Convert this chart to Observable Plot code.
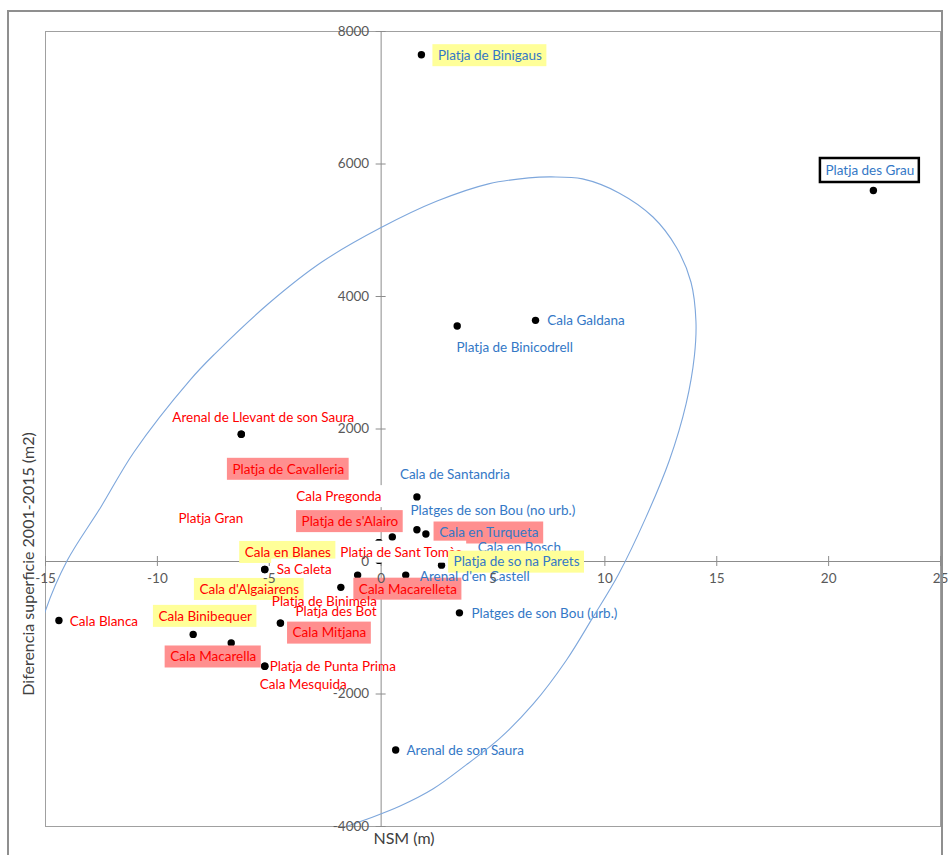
<!DOCTYPE html>
<html><head><meta charset="utf-8">
<script src="https://cdn.jsdelivr.net/npm/d3@7"></script>
<script src="https://cdn.jsdelivr.net/npm/@observablehq/plot@0.6"></script>
<style>
html,body{margin:0;padding:0;overflow:hidden;background:#fff}
#wrap{position:relative;width:948px;height:855px;overflow:hidden}
#outer{position:absolute;left:7px;top:10px;width:936px;height:900px;border:2px solid #8f8f8f;box-sizing:border-box;pointer-events:none}
</style></head><body><div id="wrap"><div id="chart"></div><div id="outer"></div></div>
<script>
// ---- data ----
const names = [
  "Platja de Binigaus","Platja des Grau","Cala Galdana","Platja de Binicodrell",
  "Arenal de Llevant de son Saura","Platja de Cavalleria","Cala de Santandria","Cala Pregonda",
  "Platja Gran","Platja de s'Alairo","Platges de son Bou (no urb.)","Cala en Turqueta",
  "Cala en Bosch","Platja de Sant Tomàs","Platja de so na Parets","Cala en Blanes",
  "Sa Caleta","Cala Macarelleta","Arenal d'en Castell","Cala d'Algaiarens",
  "Platja de Binimela","Platja des Bot","Cala Mitjana","Platges de son Bou (urb.)",
  "Cala Blanca","Cala Binibequer","Cala Macarella","Platja de Punta Prima",
  "Cala Mesquida","Arenal de son Saura"
];
const nsm = [1.8, 22.0, 6.9, 3.4, -6.25, -6.25, 1.6, -0.1, -0.1, -0.1, 1.6, 2.0, 0.5, -0.1, 2.7, -5.2,
  -1.05, -0.1, 1.1, -5.2, -1.8, -4.5, -4.5, 3.5, -14.4, -8.4, -6.7, -5.2, -5.2, 0.65];
const area = [7650, 5600, 3640, 3555, 1920, 1920, 975, 285, 285, 285, 480, 415, 370, 20, -55, -120,
  -205, 20, -205, -120, -390, -930, -930, -775, -890, -1100, -1230, -1580, -1580, -2845];
const xTicks = [-15, -10, -5, 0, 5, 10, 15, 20, 25];
const yTicks = [-4000, -2000, 0, 2000, 4000, 6000, 8000];
// hand-drawn ellipse annotation
const ellipseX = [-16.0, -15.6, -15.0, -14.03, -12.53, -11.05, -8.55, -7.43, -5.04, -2.65, 0, 2.5, 4.8, 6.6, 7.6, 9.0,
  10.65, 12.15, 13.2, 13.85, 14.07, 14.0, 13.63, 12.88, 11.84, 10.6, 9.47, 8.28, 6.8, 5.3, 3.8, 2.33, 0.85,
  -0.64, -1.55, -3, -7, -11, -14.2, -15.4];
const ellipseY = [-2500, -1500, -740, 15, 820, 1650, 2735, 3135, 3890, 4520, 5040, 5440, 5700, 5790, 5805, 5775,
  5560, 5200, 4740, 4215, 3625, 3100, 2380, 1525, 670, -200, -840, -1490, -2150, -2670, -3070, -3430, -3690,
  -3890, -4000, -4200, -4450, -4400, -4200, -3900];

// ---- layout / style (label offsets in px, box style) ----
const labelLayout = {
  "Platja de Binigaus": [68.5, 1, "yellow"], "Platja des Grau": [-3.5, -20, "outline"],
  "Cala Galdana": [50.5, 0], "Platja de Binicodrell": [57.5, 22],
  "Arenal de Llevant de son Saura": [22, -17], "Platja de Cavalleria": [47, 35, "pink"],
  "Cala de Santandria": [38, -22], "Cala Pregonda": [-40, -46, "white"], "Platja Gran": [-168, -24],
  "Platja de s'Alairo": [-29, -21, "pink"], "Platges de son Bou (no urb.)": [76, -19],
  "Cala en Turqueta": [63, -1, "pink"], "Cala en Bosch": [127, 11], "Platja de Sant Tomàs": [22, -8, "white"],
  "Platja de so na Parets": [75, -3, "yellow"], "Cala en Blanes": [23, -17, "yellow"],
  "Sa Caleta": [-53.5, -5, "white"], "Cala Macarelleta": [29, 29, "pink"], "Arenal d'en Castell": [69, 2],
  "Cala d'Algaiarens": [-15.5, 20, "yellow"], "Platja de Binimela": [-16.5, 14], "Platja des Bot": [55.5, -11],
  "Cala Mitjana": [49, 10, "pink"], "Platges de son Bou (urb.)": [85, 1], "Cala Blanca": [45, 1],
  "Cala Binibequer": [12, -18, "yellow"], "Cala Macarella": [-18, 14, "pink"],
  "Platja de Punta Prima": [68, 0], "Cala Mesquida": [38.5, 18], "Arenal de son Saura": [69.5, 1]
};
const boxFill = {yellow: "#ffff99", pink: "#ff8f8f", white: "#ffffff", outline: "#ffffff"};
const RED = "#ff0000", BLUE = "#3478c6";
const FONT = "Lato, Carlito, 'Open Sans', sans-serif";
const FS = 13.5;

const W = 948, H = 855, mL = 45, mR = 8, mT = 31, mB = 29;
const xDomain = [-15, 25], yDomain = [-4000, 8000];
let xs, ys;
try {
  xs = Plot.scale({x: {domain: xDomain, range: [mL, W - mR]}});
  ys = Plot.scale({y: {domain: yDomain, range: [H - mB, mT]}});
} catch (e) {
  const a = d3.scaleLinear(xDomain, [mL, W - mR]), b = d3.scaleLinear(yDomain, [H - mB, mT]);
  xs = {apply: a, invert: a.invert}; ys = {apply: b, invert: b.invert};
}
const ctx = document.createElement("canvas").getContext("2d");
ctx.font = `${FS}px Lato`;

const labels = names.map((n, i) => {
  const [dx, dy, style] = labelLayout[n];
  const w = ctx.measureText(n).width;
  const cx = xs.apply(nsm[i]) + dx, cy = ys.apply(area[i]) + dy;
  const hh = style === "outline" ? 12 : 11, pad = 5;
  return {name: n, x: nsm[i], y: area[i], dx, dy, style,
    x1: xs.invert(cx - w / 2 - pad), x2: xs.invert(cx + w / 2 + pad),
    y1: ys.invert(cy + hh), y2: ys.invert(cy - hh)};
});
const ellipse = ellipseX.map((x, i) => ({x, y: ellipseY[i]}));

const labelMarks = labels.flatMap(l => {
  const m = [];
  if (l.style) m.push(Plot.rect([l], {x1: "x1", x2: "x2", y1: "y1", y2: "y2",
    fill: boxFill[l.style], stroke: l.style === "outline" ? "#000" : "none", strokeWidth: 2.5}));
  m.push(Plot.text([l], {x: "x", y: "y", text: "name", dx: l.dx, dy: l.dy,
    fill: l.x < 0 ? RED : BLUE, fontFamily: FONT, fontSize: FS}));
  return m;
});

const chart = Plot.plot({
  width: W, height: H, marginLeft: mL, marginRight: mR, marginTop: mT, marginBottom: mB,
  x: {domain: xDomain, axis: null}, y: {domain: yDomain, axis: null},
  style: {background: "transparent"},
  marks: [
    Plot.frame({stroke: "#a0a0a0"}),
    Plot.ruleY([0], {stroke: "#8c8c8c"}),
    Plot.ruleX([0], {stroke: "#8c8c8c"}),
    Plot.ruleX(xTicks, {x: d => d, y1: () => 0, y2: () => 0, insetTop: -5, insetBottom: -5, stroke: "#8c8c8c"}),
    Plot.ruleY(yTicks, {y: d => d, x1: () => 0, x2: () => 0, insetLeft: -5, insetRight: -5, stroke: "#8c8c8c"}),
    Plot.dot(labels, {x: "x", y: "y", r: 3.7, fill: "#000"}),
    ...labelMarks,
    Plot.line(ellipse, {x: "x", y: "y", curve: "catmull-rom-closed", stroke: "#7ea7dc", strokeWidth: 1.1, clip: true}),
    Plot.text(xTicks, {x: d => d, y: () => 0, dy: 17, text: d => String(d), fill: "#595959", fontFamily: FONT, fontSize: FS}),
    Plot.text(yTicks, {x: () => 0, y: d => d, dx: -12, textAnchor: "end", text: d => String(d), fill: "#595959", fontFamily: FONT, fontSize: FS}),
    Plot.text(["NSM (m)"], {frameAnchor: "bottom", dx: -89, dy: 17, fill: "#404040", fontFamily: FONT, fontSize: 16}),
    Plot.text(["Diferencia superficie 2001-2015 (m2)"], {frameAnchor: "left", textAnchor: "middle", rotate: -90, dx: -17, dy: 135, fill: "#404040", fontFamily: FONT, fontSize: 16})
  ]
});
document.getElementById("chart").appendChild(chart);
</script></body></html>
